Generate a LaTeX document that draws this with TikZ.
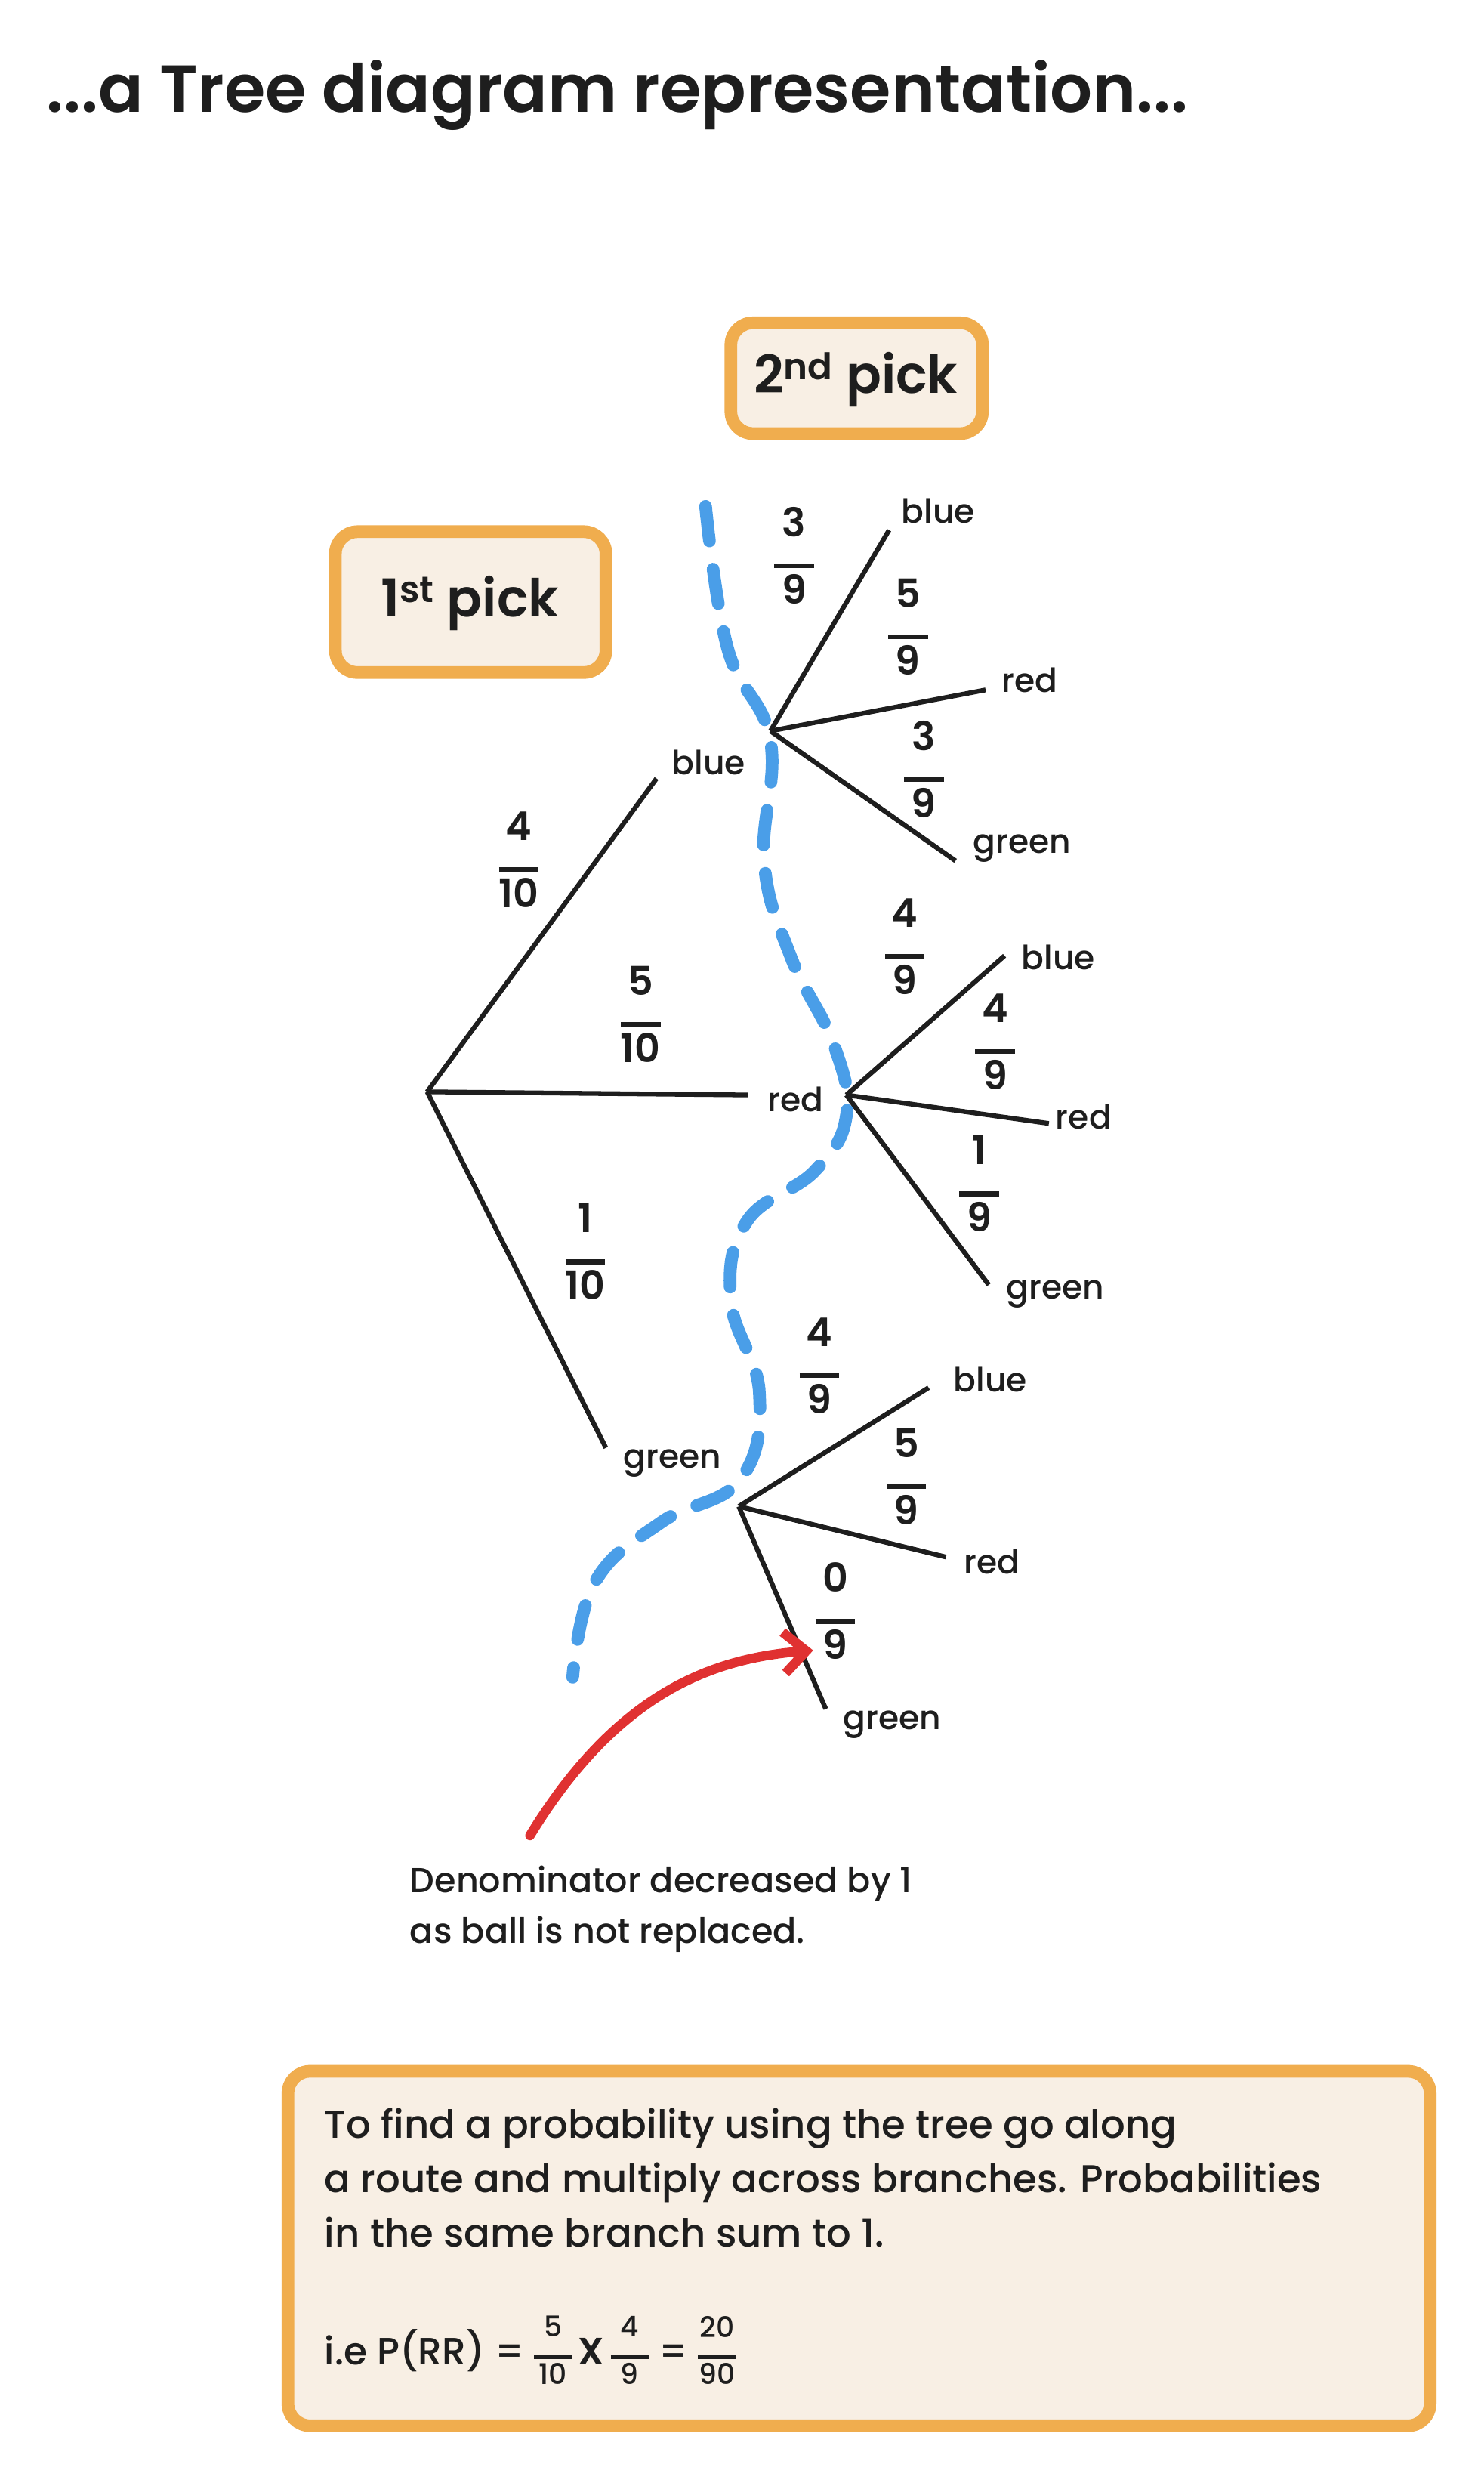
\documentclass[tikz,border=0pt]{standalone}
\usepackage{fontspec}
\setmainfont{Poppins}[UprightFont=* Medium,BoldFont=* SemiBold]
\usetikzlibrary{arrows.meta}
\definecolor{orng}{HTML}{F0AD4E}
\definecolor{cream}{HTML}{F8EFE4}
\definecolor{bluel}{HTML}{4A9EE8}
\definecolor{redl}{HTML}{E03131}
\definecolor{ink}{HTML}{1E1E1E}
\tikzset{
 lbl/.style={text=ink,font=\fontsize{21}{24}\selectfont,inner sep=1pt},
 frac/.style={text=ink,font=\fontsize{25}{26}\selectfont\bfseries,inner sep=1pt},
 br/.style={draw=ink,line width=3pt},
 pbox/.style={draw=orng,fill=cream,line width=8pt,rounded corners=14pt},
}
\newcommand{\fr}[2]{$\vcenter{\hbox{\begin{tabular}{@{}c@{}}#1\\[-6pt]\rule{25pt}{3pt}\\[-4pt]#2\end{tabular}}}$}
\newcommand{\sfr}[2]{$\vcenter{\hbox{\fontsize{18}{18}\selectfont\begin{tabular}{@{}c@{}}#1\\[-4pt]\rule{24pt}{2.5pt}\\[-3pt]#2\end{tabular}}}$}
\begin{document}
\begin{tikzpicture}[x=1pt,y=-1pt]
\useasboundingbox[fill=white] (0,0) rectangle (938,1573);
\node[anchor=west,text=ink,font=\fontsize{42}{46}\selectfont\bfseries] (title) at (26,60) {...a Tree diagram representation...};
\draw[pbox] (462,204) rectangle (621,274);
\node[lbl,font=\fontsize{33}{36}\selectfont\bfseries] (p2) at (541,240) {2\textsuperscript{nd} pick};
\draw[pbox] (212,336) rectangle (383,425);
\node[lbl,font=\fontsize{33}{36}\selectfont\bfseries] (p1) at (297,381) {1\textsuperscript{st} pick};
% dashed blue curve
\draw[bluel,line width=8pt,dash pattern=on 22pt off 18pt,line cap=round] plot[smooth,tension=0.7] coordinates {(446,320) (460,410) (487,468) (483,545) (500,605) (527,660) (535,705) (515,740) (472,772) (462,822) (480,880) (468,935) (418,962) (376,1000) (362,1060)};
% first level
\coordinate (root) at (270,690);
\coordinate (b1) at (415,492);
\coordinate (r1) at (473,692);
\coordinate (g1) at (383,915);
\draw[br] (root)--(b1); \draw[br] (root)--(r1); \draw[br] (root)--(g1);
\node[lbl] (lb1) at (448,482) {blue};
\node[lbl] (lr1) at (503,695) {red};
\node[lbl] (lg1) at (425,925) {green};
\node[frac] (f1) at (328,547) {\fr{4}{10}};
\node[frac] (f2) at (405,645) {\fr{5}{10}};
\node[frac] (f3) at (370,795) {\fr{1}{10}};
% blue hub
\coordinate (hb) at (487,462);
\coordinate (hbb) at (562,335); \coordinate (hbr) at (623,436); \coordinate (hbg) at (604,544);
\draw[br] (hb)--(hbb); \draw[br] (hb)--(hbr); \draw[br] (hb)--(hbg);
\node[lbl] (l1) at (593,323) {blue};
\node[lbl] (l2) at (651,430) {red};
\node[lbl] (l3) at (646,536) {green};
\node[frac] (f4) at (502,355) {\fr{3}{9}};
\node[frac] (f5) at (574,400) {\fr{5}{9}};
\node[frac] (f6) at (584,490) {\fr{3}{9}};
% red hub
\coordinate (hr) at (535,692);
\coordinate (hrb) at (635,604); \coordinate (hrr) at (663,710); \coordinate (hrg) at (625,812);
\draw[br] (hr)--(hrb); \draw[br] (hr)--(hrr); \draw[br] (hr)--(hrg);
\node[lbl] (l4) at (669,605) {blue};
\node[lbl] (l5) at (685,706) {red};
\node[lbl] (l6) at (667,818) {green};
\node[frac] (f7) at (572,602) {\fr{4}{9}};
\node[frac] (f8) at (629,662) {\fr{4}{9}};
\node[frac] (f9) at (619,752) {\fr{1}{9}};
% green hub
\coordinate (hg) at (467,952);
\coordinate (hgb) at (587,877); \coordinate (hgr) at (598,984); \coordinate (hgg) at (522,1080);
\draw[br] (hg)--(hgb); \draw[br] (hg)--(hgr); \draw[br] (hg)--(hgg);
\node[lbl] (l7) at (626,872) {blue};
\node[lbl] (l8) at (627,987) {red};
\node[lbl] (l9) at (564,1090) {green};
\node[frac] (f10) at (518,867) {\fr{4}{9}};
\node[frac] (f11) at (573,937) {\fr{5}{9}};
\node[frac] (f12) at (528,1022) {\fr{0}{9}};
% red arrow
\coordinate (as) at (335,1160);
\coordinate (ae) at (514,1043);
\draw[redl,line width=6pt,line cap=round,-{Straight Barb[length=14pt,width=26pt,line width=6pt]}] (as) .. controls (390,1070) and (450,1048) .. (ae);
\node[lbl,anchor=north west,align=left,font=\fontsize{22}{32}\selectfont] (note) at (258,1178) {Denominator decreased by 1\\as ball is not replaced.};
% bottom box
\draw[pbox] (182,1309) rectangle (904,1533);
\node[lbl,anchor=north west,align=left,font=\fontsize{24.5}{34.5}\selectfont] (expl) at (204,1331) {To find a probability using the tree go along\\a route and multiply across branches. Probabilities\\in the same branch sum to 1.};
\node[lbl,anchor=west,font=\fontsize{24}{26}\selectfont] (eq) at (204,1488) {i.e P(RR) = \sfr{5}{10}\,\textbf{X}\,\sfr{4}{9} = \sfr{20}{90}};
\end{tikzpicture}
\end{document}
